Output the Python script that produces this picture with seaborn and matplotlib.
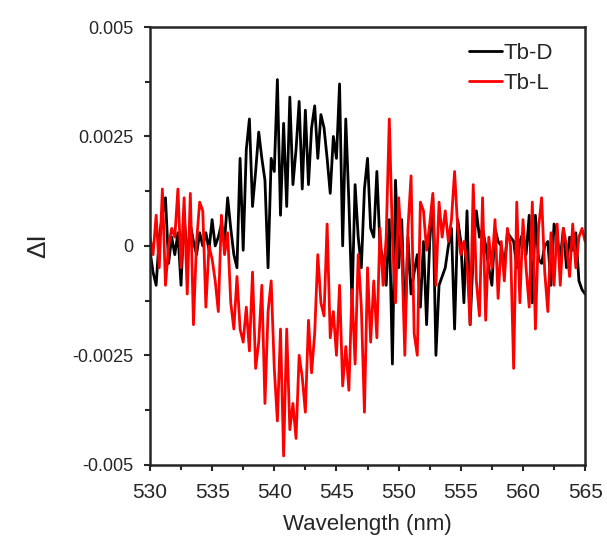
import numpy as np
import pandas as pd
import seaborn as sns
import matplotlib.pyplot as plt
from matplotlib.ticker import MultipleLocator

# wavelength grid (nm), 0.25 nm steps
wavelength = np.arange(530, 565.001, 0.25)

# delta I values, in units of 1e-4
tb_d = [-1, -6, -9, 2, 7, 11, -4, 2, -2, 3, -9, 7, -3, 5, 1, -2, 3, 0, 3, -1,
        6, 0, 2, 5, 1, 11, 4, -2, -5, 20, -1, 22, 29, 9, 17, 26, 20, 15, -5, 20,
        17, 38, 7, 28, 9, 34, 14, 22, 33, 13, 31, 14, 27, 32, 20, 30, 27, 20, 12, 25,
        20, 37, 0, 29, 10, -13, 14, 2, -5, 13, 20, 4, 2, 17, 0, -3, -9, 6, -27, 15,
        -5, 6, -19, 2, -11, -6, -2, -14, 1, -18, 1, 11, -25, -9, -7, -5, 0, 4, -19, 6,
        1, -13, 8, -18, -2, 8, 2, 4, 0, -5, -9, 4, 1, 0, -5, 3, 2, 1, -5, 1,
        3, -2, 7, -13, 7, -3, -4, 0, 1, -9, 5, 2, -3, 4, -5, 2, -1, 3, -8, -10,
        -11]
tb_l = [2, -2, 7, -5, 13, -9, 0, 4, 2, 13, -5, 11, -11, 12, -18, 1, 10, 8, -14, 0,
        -3, -8, -15, 7, -2, 3, -13, -19, -7, -19, -22, -14, -24, -6, -28, -22, -9, -36, -15, -8,
        -28, -40, -19, -48, -19, -42, -36, -44, -25, -30, -38, -17, -29, -20, -2, -13, -16, 5, -21, -15,
        -25, -9, -32, -23, -33, -10, -27, -2, -14, -38, -5, -22, -8, -21, 4, -9, 2, 29, 2, -13,
        11, -1, -25, 4, 16, -20, -25, 10, 8, -1, 5, 12, -9, 10, 2, 8, 1, 6, 17, 4,
        -2, 1, -4, -18, 14, -8, -16, 11, -17, 2, -5, 6, -12, 1, -8, 4, 0, -28, 10, -13,
        6, -5, -14, 10, -19, 4, 11, -6, -15, 3, -9, 5, -9, 4, 0, -7, 5, -5, 2, 4,
        1]

y_ticks = [-0.005, -0.0025, 0, 0.0025, 0.005]
y_ticklabels = ['-0.005', '-0.0025', '0', '0.0025', '0.005']

df = pd.concat([
    pd.DataFrame({'wl': wavelength, 'dI': np.array(tb_d) * 1e-4, 'sample': 'Tb-D'}),
    pd.DataFrame({'wl': wavelength, 'dI': np.array(tb_l) * 1e-4, 'sample': 'Tb-L'}),
])

sns.set_style('ticks')
plt.rcParams['font.family'] = ['Liberation Sans', 'DejaVu Sans']

fig = plt.figure(figsize=(6.07, 5.41), dpi=100)
ax = fig.add_axes([0.247, 0.141, 0.717, 0.809])

sns.lineplot(data=df, x='wl', y='dI', hue='sample', palette={'Tb-D': 'black', 'Tb-L': 'red'},
             linewidth=2.0, ax=ax)

ax.set_xlim(530, 565)
ax.set_ylim(-0.005, 0.005)
ax.xaxis.set_major_locator(MultipleLocator(5))
ax.xaxis.set_minor_locator(MultipleLocator(2.5))
ax.set_yticks(y_ticks)
ax.set_yticklabels(y_ticklabels)
ax.yaxis.set_minor_locator(MultipleLocator(0.00125))

ax.tick_params(which='both', direction='out', width=1.5, top=False, right=False)
ax.tick_params(which='major', length=4)
ax.tick_params(which='minor', length=3.5)
ax.tick_params(axis='x', labelsize=15, pad=9)
ax.tick_params(axis='y', labelsize=13, pad=8)
for s in ax.spines.values():
    s.set_linewidth(1.8)

ax.set_xlabel('Wavelength (nm)', fontsize=16)
ax.xaxis.set_label_coords(0.5, -0.113)
ax.set_ylabel('ΔI', fontsize=19)
ax.yaxis.set_label_coords(-0.228, 0.5)

leg = ax.legend(frameon=False, fontsize=16, handlelength=1.5, handletextpad=0.05,
                labelspacing=0.4, borderpad=0, borderaxespad=0,
                loc='upper right', bbox_to_anchor=(0.925, 0.963))

fig.savefig('out.png', dpi=100)
